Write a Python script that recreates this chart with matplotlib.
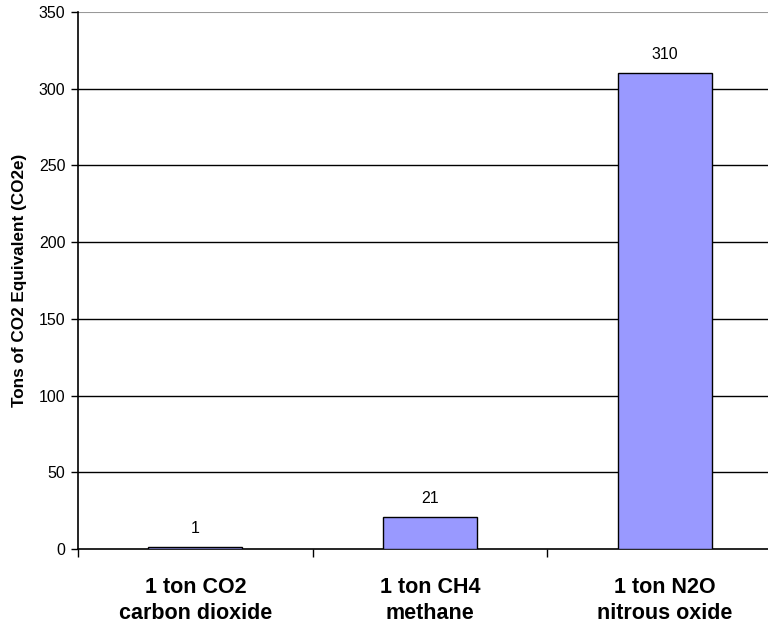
import matplotlib
matplotlib.use("Agg")
import matplotlib.pyplot as plt
import numpy as np

plt.rcParams['font.family'] = ['Liberation Sans', 'DejaVu Sans']

# Data
categories = ["1 ton CO2\ncarbon dioxide", "1 ton CH4\nmethane", "1 ton N2O\nnitrous oxide"]
values = [1, 21, 310]
y_ticks = [0, 50, 100, 150, 200, 250, 300, 350]

fig = plt.figure(figsize=(7.68, 6.25), dpi=100)
ax = fig.add_axes([78 / 768, 76 / 625, 704 / 768, 537 / 625])

x = np.arange(len(categories))

# Gridlines
for t in y_ticks[1:-1]:
    ax.axhline(t, color="black", linewidth=1.0, zorder=1)
ax.axhline(350, color="#999999", linewidth=1.5, zorder=1)

bars = ax.bar(x, values, width=0.4, color="#9999ff", edgecolor="black",
              linewidth=1.0, zorder=3)

for xi, v in zip(x, values):
    ax.annotate(str(v), (xi, v), xytext=(0, 8), textcoords="offset points",
                ha="center", va="bottom", fontsize=11.5)

ax.set_xlim(-0.5, 2.5)
ax.set_ylim(0, 350)
ax.set_yticks(y_ticks)
ax.tick_params(axis="y", labelsize=11.5, length=5, width=1, direction="out", pad=4)

# category ticks sit between groups
ax.set_xticks(x)
ax.set_xticklabels(categories, fontsize=15.5, fontweight="bold", linespacing=1.35)
ax.tick_params(axis="x", length=0, pad=20)
ax.set_xticks([-0.5, 0.5, 1.5], minor=True)
ax.tick_params(axis="x", which="minor", length=6, width=1, direction="out")

for s in ["top", "right"]:
    ax.spines[s].set_visible(False)
ax.spines["left"].set_linewidth(1.2)
ax.spines["bottom"].set_linewidth(1.2)

ax.set_ylabel("Tons of CO2 Equivalent (CO2e)", fontsize=12.3, fontweight="bold")
ax.yaxis.set_label_coords(-0.072, 0.5)

fig.savefig("out.png", dpi=100)
